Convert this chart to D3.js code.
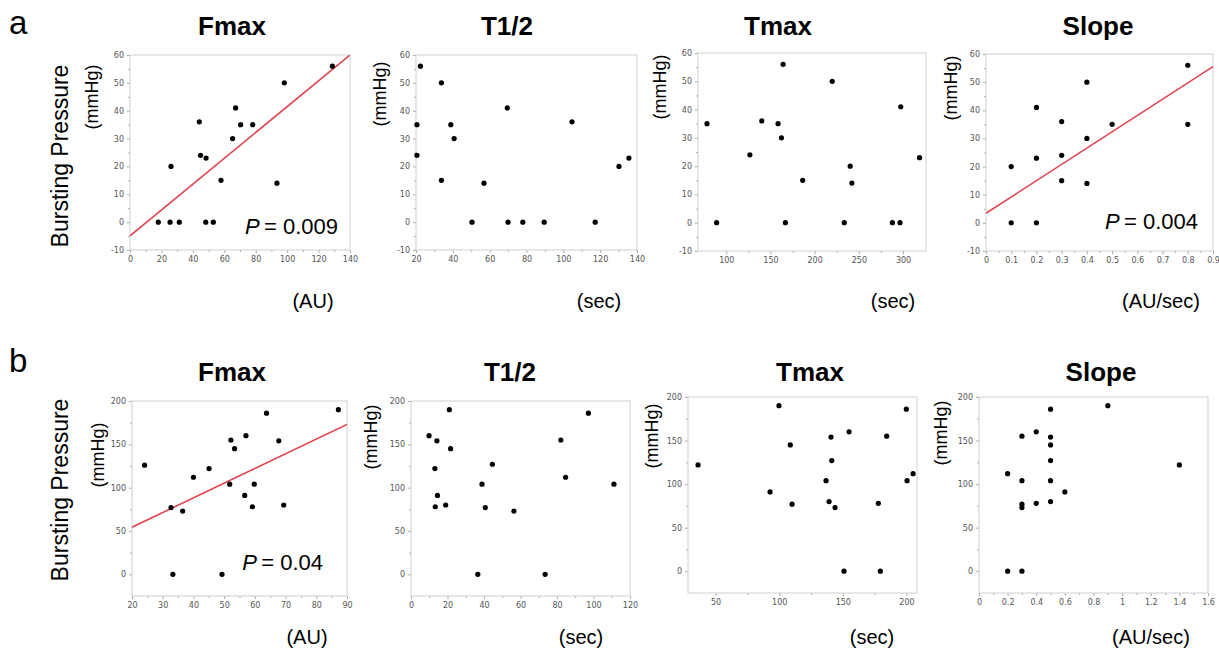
<!DOCTYPE html>
<html>
<head>
<meta charset="utf-8">
<script src="https://cdn.jsdelivr.net/npm/d3@7/dist/d3.min.js"></script>
<style>
  body { margin: 0; background: #fff; }
  svg { font-family: "Liberation Sans", Arial, sans-serif; }
  .tick text { font-family: "DejaVu Sans", Verdana, sans-serif; font-size: 8px; fill: #555; }
  .tick line { stroke: #aaa; }
  .frame { fill: none; stroke: #cfcfcf; stroke-width: 1; }
  .dot { fill: #000; }
  .fit { stroke: #e0444e; stroke-width: 1.6; fill: none; }
</style>
</head>
<body>
<svg width="1219" height="650"></svg>
<script>
// ---- data ----
// row a : bursting pressure (mmHg), scale -10..60
var aFmaxX = [18, 25.5, 31.4, 48.2, 53, 26.1, 44.1, 44.9, 48.4, 57.9, 65.3, 67.2, 70.4, 78.1, 93.5, 98.2, 128.8];
var aFmaxY = [0, 0, 0, 0, 0, 20, 36, 24, 23, 15, 30, 41, 35, 35, 14, 50, 56];
var aFmaxFit = [-4.9, 0.4636];

var aHalfX = [22.4, 20.5, 20.5, 33.8, 33.8, 38.9, 40.7, 50.4, 56.9, 69.6, 70, 78, 89.6, 104.7, 117.3, 130.2, 135.6];
var aHalfY = [56, 35, 24, 50, 15, 35, 30, 0, 14, 41, 0, 0, 0, 36, 0, 20, 23];

var aTmaxX = [78.2, 89.1, 126.7, 140.2, 158.6, 162.4, 164.3, 166.9, 186.5, 219.9, 233.5, 240.2, 242.1, 288, 296.6, 297.4, 318.7];
var aTmaxY = [35, 0, 24, 36, 35, 30, 56, 0, 15, 50, 0, 20, 14, 0, 0, 41, 23];

var aSlopeX = [0.1, 0.1, 0.2, 0.2, 0.2, 0.3, 0.3, 0.3, 0.4, 0.4, 0.4, 0.5, 0.8, 0.8];
var aSlopeY = [20, 0, 23, 41, 0, 36, 24, 15, 50, 30, 14, 35, 56, 35];
var aSlopeFit = [3.4, 57.9];

// row b : bursting pressure (mmHg), scale -25..200
var bFmaxX = [24.1, 32.7, 33.3, 36.5, 40, 45.1, 49.3, 51.8, 52.2, 53.4, 56.7, 57.1, 59.2, 59.8, 63.8, 67.8, 69.4, 87.2];
var bFmaxY = [126, 77, 0, 73, 112, 122, 0, 104, 155, 145, 91, 160, 78, 104, 186, 154, 80, 190];
var bFmaxFit = [20.4, 1.696];

var bHalfX = [9.9, 13.1, 13.3, 14.2, 14.5, 19, 21, 21.7, 36.6, 38.9, 40.7, 44.6, 56.4, 73.5, 82.1, 84.7, 97.2, 111.2];
var bHalfY = [160, 122, 78, 154, 91, 80, 190, 145, 0, 104, 77, 127, 73, 0, 155, 112, 186, 104];

var bTmaxX = [36.2, 99.8, 92.8, 108.7, 110.1, 136.8, 139.2, 140.7, 141.3, 143.9, 150.9, 154.9, 177.9, 179.5, 184.5, 199.9, 200.5, 205.2];
var bTmaxY = [122, 190, 91, 145, 77, 104, 80, 154, 127, 73, 0, 160, 78, 0, 155, 186, 104, 112];

var bSlopeX = [0.2, 0.2, 0.3, 0.3, 0.3, 0.3, 0.3, 0.4, 0.4, 0.5, 0.5, 0.5, 0.5, 0.5, 0.5, 0.6, 0.9, 1.4];
var bSlopeY = [112, 0, 155, 104, 77, 73, 0, 160, 78, 186, 154, 145, 127, 104, 80, 91, 190, 122];

// tick labels
var aYTicks = [-10, 0, 10, 20, 30, 40, 50, 60];
var bYTicks = [0, 50, 100, 150, 200];
var aFmaxTicks = [0, 20, 40, 60, 80, 100, 120, 140];
var aHalfTicks = [20, 40, 60, 80, 100, 120, 140];
var aTmaxTicks = [100, 150, 200, 250, 300];
var aSlopeTicks = [0, 0.1, 0.2, 0.3, 0.4, 0.5, 0.6, 0.7, 0.8, 0.9];
var bFmaxTicks = [20, 30, 40, 50, 60, 70, 80, 90];
var bHalfTicks = [0, 20, 40, 60, 80, 100, 120];
var bTmaxTicks = [50, 100, 150, 200];
var bSlopeTicks = [0, 0.2, 0.4, 0.6, 0.8, 1, 1.2, 1.4, 1.6];

var titles = ["Fmax", "T1/2", "Tmax", "Slope"];
var units = ["(AU)", "(sec)", "(sec)", "(AU/sec)"];

// ---- layout ----
var svg = d3.select("svg");

var panels = [
  {title: 0, xs: aFmaxX, ys: aFmaxY, fit: aFmaxFit, p: "0.009", xDom: [0, 140], xTicks: aFmaxTicks, yDom: [-10, 60], yTicks: aYTicks,
   box: [130, 55, 350, 250], tx: 232, ty: 35, ux: 313, uy: 308, mx: 98, my: 97, pp: [338, 234]},
  {title: 1, xs: aHalfX, ys: aHalfY, xDom: [20, 140], xTicks: aHalfTicks, yDom: [-10, 60], yTicks: aYTicks,
   box: [416, 55, 637, 250], tx: 507, ty: 35, ux: 599, uy: 308, mx: 386, my: 94},
  {title: 2, xs: aTmaxX, ys: aTmaxY, xDom: [68, 326], xTicks: aTmaxTicks, yDom: [-10, 60], yTicks: aYTicks,
   box: [698, 53, 926, 251], tx: 778, ty: 35, ux: 893, uy: 308, mx: 666, my: 87},
  {title: 3, xs: aSlopeX, ys: aSlopeY, fit: aSlopeFit, p: "0.004", xDom: [0, 0.9], xTicks: aSlopeTicks, yDom: [-10, 60], yTicks: aYTicks,
   box: [986, 54, 1213, 251], tx: 1098, ty: 35, ux: 1161, uy: 308, mx: 957, my: 88, pp: [1198, 229]},
  {title: 0, xs: bFmaxX, ys: bFmaxY, fit: bFmaxFit, p: "0.04", xDom: [20, 90], xTicks: bFmaxTicks, yDom: [-25, 200], yTicks: bYTicks,
   box: [132, 401, 347, 596], tx: 232, ty: 381, ux: 307, uy: 644, mx: 104, my: 455, pp: [323, 570]},
  {title: 1, xs: bHalfX, ys: bHalfY, xDom: [0, 120], xTicks: bHalfTicks, yDom: [-25, 200], yTicks: bYTicks,
   box: [411, 401, 630, 596], tx: 510, ty: 381, ux: 581, uy: 644, mx: 377, my: 437},
  {title: 2, xs: bTmaxX, ys: bTmaxY, xDom: [28.3, 208.3], xTicks: bTmaxTicks, yDom: [-25, 200], yTicks: bYTicks,
   box: [688, 397, 917, 593], tx: 810, ty: 381, ux: 872, uy: 644, mx: 658, my: 436},
  {title: 3, xs: bSlopeX, ys: bSlopeY, xDom: [0, 1.6], xTicks: bSlopeTicks, yDom: [-25, 200], yTicks: bYTicks,
   box: [979, 397, 1208, 593], tx: 1101, ty: 381, ux: 1151, uy: 644, mx: 947, my: 433}
];

function mids(t) {
  var m = [];
  for (var i = 0; i < t.length - 1; i++) m.push((t[i] + t[i + 1]) / 2);
  return m;
}

panels.forEach(function(p, i) {
  var b = p.box;
  var x = d3.scaleLinear().domain(p.xDom).range([b[0], b[2]]);
  var y = d3.scaleLinear().domain(p.yDom).range([b[3], b[1]]);
  var g = svg.append("g");

  // minor ticks
  g.append("g").attr("transform", "translate(" + b[0] + ",0)")
    .call(d3.axisLeft(y).tickValues(mids(p.yTicks)).tickSize(2).tickFormat(""))
    .select(".domain").remove();
  g.append("g").attr("transform", "translate(0," + b[3] + ")")
    .call(d3.axisBottom(x).tickValues(mids(p.xTicks)).tickSize(2).tickFormat(""))
    .select(".domain").remove();

  g.append("g").attr("transform", "translate(" + b[0] + ",0)")
    .call(d3.axisLeft(y).tickValues(p.yTicks).tickSize(3).tickPadding(3).tickFormat(function(d) { return String(d); }))
    .select(".domain").remove();
  g.append("g").attr("transform", "translate(0," + b[3] + ")")
    .call(d3.axisBottom(x).tickValues(p.xTicks).tickSize(3).tickPadding(3).tickFormat(function(d) { return String(d); }))
    .select(".domain").remove();

  g.append("rect").attr("class", "frame")
    .attr("x", b[0]).attr("y", b[1]).attr("width", b[2] - b[0]).attr("height", b[3] - b[1]);

  svg.append("clipPath").attr("id", "clip" + i)
    .append("rect").attr("x", b[0]).attr("y", b[1]).attr("width", b[2] - b[0]).attr("height", b[3] - b[1]);

  if (p.fit) {
    g.append("line").attr("class", "fit").attr("clip-path", "url(#clip" + i + ")")
      .attr("x1", x(p.xDom[0])).attr("y1", y(p.fit[0] + p.fit[1] * p.xDom[0]))
      .attr("x2", x(p.xDom[1])).attr("y2", y(p.fit[0] + p.fit[1] * p.xDom[1]));
  }

  g.selectAll(".dot").data(p.xs).enter().append("circle")
    .attr("class", "dot")
    .attr("cx", function(d) { return x(d); })
    .attr("cy", function(d, j) { return y(p.ys[j]); })
    .attr("r", 2.6);

  svg.append("text").attr("x", p.tx).attr("y", p.ty)
    .attr("text-anchor", "middle").attr("font-weight", "bold").attr("font-size", 26)
    .text(titles[p.title]);

  svg.append("text").attr("x", p.ux).attr("y", p.uy)
    .attr("text-anchor", "middle").attr("font-size", 20)
    .text(units[p.title]);

  svg.append("text").attr("transform", "translate(" + p.mx + "," + p.my + ") rotate(-90)")
    .attr("text-anchor", "middle").attr("font-size", 18)
    .text("(mmHg)");

  if (p.p) {
    var t = svg.append("text").attr("x", p.pp[0]).attr("y", p.pp[1])
      .attr("text-anchor", "end").attr("font-size", 22);
    t.append("tspan").attr("font-style", "italic").text("P");
    t.append("tspan").text("\u2009= " + p.p);
  }
});

// row letters and shared y label
svg.append("text").attr("x", 9).attr("y", 34).attr("font-size", 33).text("a");
svg.append("text").attr("x", 9).attr("y", 372).attr("font-size", 33).text("b");

[156, 490].forEach(function(cy) {
  svg.append("text").attr("transform", "translate(68," + cy + ") rotate(-90)")
    .attr("text-anchor", "middle").attr("font-size", 23)
    .text("Bursting Pressure");
});
</script>
</body>
</html>
